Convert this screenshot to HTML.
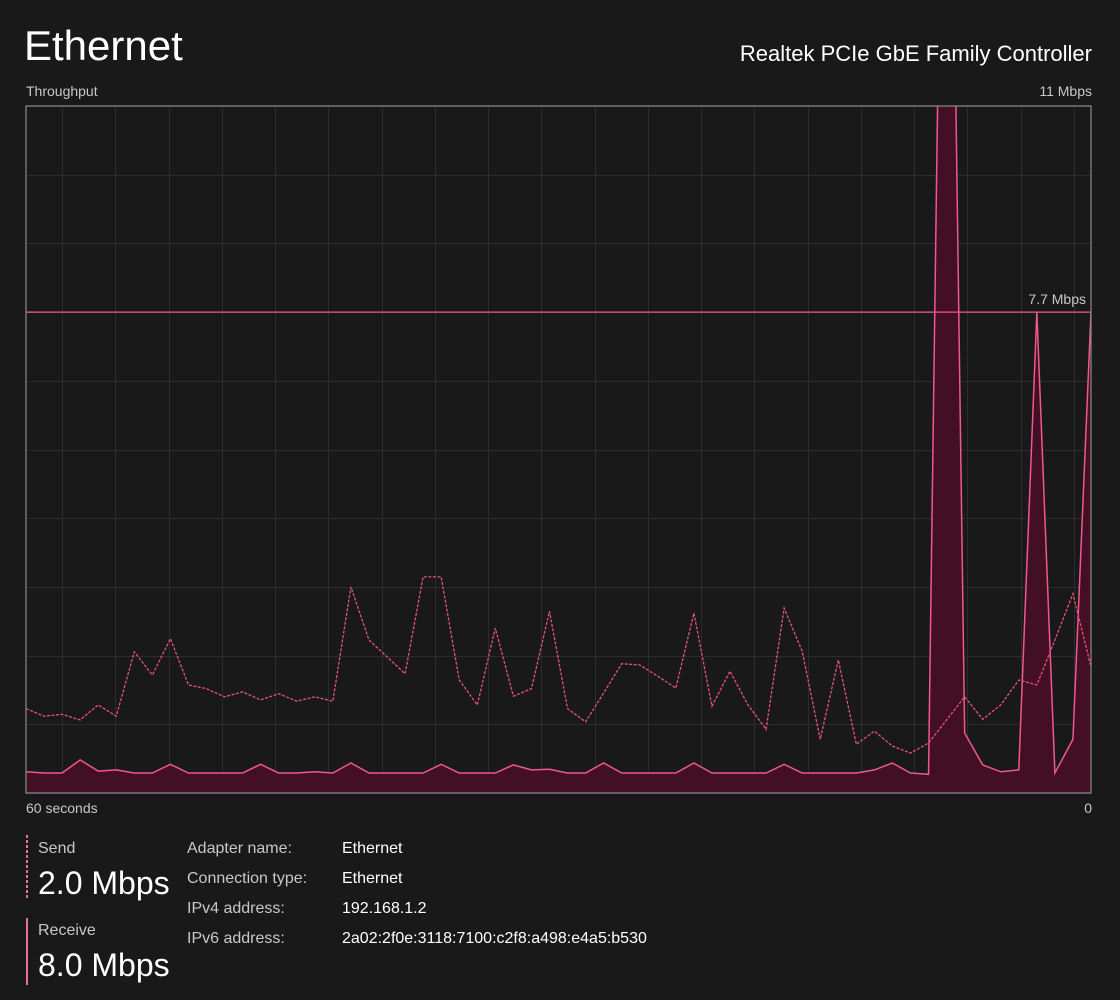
<!DOCTYPE html>
<html><head><meta charset="utf-8"><style>
html,body{margin:0;padding:0;background:#191919;width:1120px;height:1000px;overflow:hidden;font-family:"Liberation Sans",sans-serif}
svg{display:block}
</style></head><body>
<svg id="s" width="1120" height="1000">
<text x="24" y="60" font-size="42" fill="#ffffff">Ethernet</text>
<text x="1092" y="61" font-size="22" fill="#ffffff" text-anchor="end">Realtek PCIe GbE Family Controller</text>
<text x="26" y="96" font-size="14" fill="#c8c8c8">Throughput</text>
<text x="1092" y="96" font-size="14" fill="#c8c8c8" text-anchor="end">11 Mbps</text>
<text x="26" y="813" font-size="14" fill="#c8c8c8">60 seconds</text>
<text x="1092" y="813" font-size="14" fill="#c8c8c8" text-anchor="end">0</text>
<g id="chart"></g>

<line x1="27" y1="835" x2="27" y2="900" stroke="#e8709d" stroke-width="2" stroke-dasharray="3,2"/>
<text x="38" y="853" font-size="16" fill="#c8c8c8">Send</text>
<text x="38" y="894" font-size="32" fill="#ffffff">2.0 Mbps</text>
<line x1="27" y1="918" x2="27" y2="985" stroke="#e8709d" stroke-width="2"/>
<text x="38" y="935" font-size="16" fill="#c8c8c8">Receive</text>
<text x="38" y="976" font-size="32" fill="#ffffff">8.0 Mbps</text>

<g font-size="16">
<text x="187" y="853" fill="#c8c8c8">Adapter name:</text>
<text x="342" y="853" fill="#ffffff">Ethernet</text>
<text x="187" y="883" fill="#c8c8c8">Connection type:</text>
<text x="342" y="883" fill="#ffffff">Ethernet</text>
<text x="187" y="913" fill="#c8c8c8">IPv4 address:</text>
<text x="342" y="913" fill="#ffffff">192.168.1.2</text>
<text x="187" y="943" fill="#c8c8c8">IPv6 address:</text>
<text x="342" y="943" fill="#ffffff">2a02:2f0e:3118:7100:c2f8:a498:e4a5:b530</text>
</g>
</svg>
<script>
const receiveMbps=[0.34,0.32,0.32,0.53,0.35,0.37,0.32,0.32,0.46,0.32,0.32,0.32,0.32,0.46,0.32,0.32,0.34,0.32,0.48,0.32,0.32,0.32,0.32,0.46,0.32,0.32,0.32,0.45,0.37,0.38,0.32,0.32,0.48,0.32,0.32,0.32,0.32,0.48,0.32,0.32,0.32,0.32,0.46,0.32,0.32,0.32,0.32,0.37,0.48,0.32,0.30,21.7,0.96,0.45,0.34,0.37,7.7,0.32,0.86,7.7];
const sendMbps=[1.35,1.23,1.26,1.17,1.41,1.23,2.26,1.89,2.47,1.73,1.67,1.54,1.62,1.49,1.59,1.47,1.54,1.47,3.30,2.45,2.18,1.91,3.46,3.46,1.81,1.41,2.64,1.55,1.67,2.91,1.35,1.14,1.60,2.07,2.05,1.87,1.68,2.88,1.39,1.95,1.41,1.02,2.96,2.27,0.86,2.13,0.78,0.99,0.75,0.64,0.80,1.17,1.54,1.18,1.41,1.81,1.73,2.45,3.19,2.02];
const yMax=11;
const peakMbps=[7.7];
const peakLabel=["7.7 Mbps"];

const NS="http://www.w3.org/2000/svg";
const L=26,R=1091,T=106,B=793;
const g=document.getElementById('chart');
function x(i){return L+(R-L)*i/(receiveMbps.length-1);}
function y(v){return B-(B-T)*v/yMax;}
function mk(tag,attrs){const e=document.createElementNS(NS,tag);for(const k in attrs)e.setAttribute(k,attrs[k]);g.appendChild(e);return e;}
const defs=mk('defs',{});
const cp=document.createElementNS(NS,'clipPath');cp.setAttribute('id','clip');
const cr=document.createElementNS(NS,'rect');cr.setAttribute('x',L);cr.setAttribute('y',T);cr.setAttribute('width',R-L);cr.setAttribute('height',B-T);
cp.appendChild(cr);defs.appendChild(cp);
for(let k=0;k<=10;k++){const gy=Math.round(T+(B-T)*k/10)+0.5;
 const l=mk('line',{x1:L,x2:R,y1:gy,y2:gy,stroke:'#2c2c2c','stroke-width':1});
 
 }
for(let k=0;k<20;k++){const gx=Math.round(62+(R-L)/20*k)+0.5;if(gx>=R)continue;
 const l=mk('line',{x1:gx,x2:gx,y1:T,y2:B,stroke:'#2c2c2c','stroke-width':1});
 
 }
const cg=mk('g',{'clip-path':'url(#clip)'});
function add(tag,attrs){const e=document.createElementNS(NS,tag);for(const k in attrs)e.setAttribute(k,attrs[k]);cg.appendChild(e);return e;}
let d='M'+x(0)+','+B;receiveMbps.forEach((v,i)=>d+=' L'+x(i)+','+y(v));d+=' L'+x(receiveMbps.length-1)+','+B+' Z';
const area=add('path',{d:d,fill:'#430f24'});


let dl='';receiveMbps.forEach((v,i)=>dl+=(i?' L':'M')+x(i)+','+y(v));
const rl=add('path',{d:dl,fill:'none',stroke:'#f0588a','stroke-width':1.5});


let ds='';sendMbps.forEach((v,i)=>ds+=(i?' L':'M')+x(i)+','+y(v));
const sl=add('path',{d:ds,fill:'none',stroke:'#e8507d','stroke-width':1.3,'stroke-dasharray':'3,1.5'});


const pl=mk('line',{x1:L,x2:R,y1:y(peakMbps[0]),y2:y(peakMbps[0]),stroke:'#f0588a','stroke-width':1.3});


const pt=mk('text',{x:R-5,y:y(peakMbps[0])-8,'font-size':14,fill:'#c8c8c8','text-anchor':'end'});
pt.textContent=peakLabel[0];


const bd=mk('rect',{x:L,y:T,width:R-L,height:B-T,fill:'none',stroke:'#8a8a8a','stroke-width':1.2});


</script>
</body></html>
